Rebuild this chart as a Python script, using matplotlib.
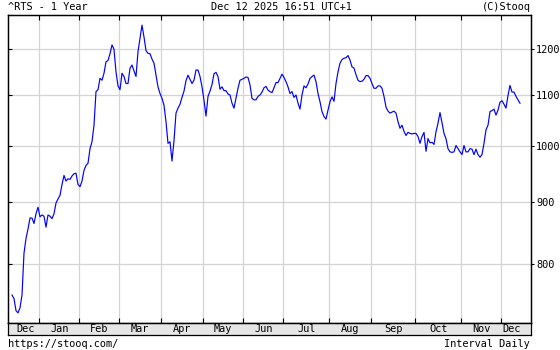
#!/usr/bin/env python3
"""Stooq style 1 year chart of the RTS index, daily close, log scale."""

import numpy as np
import matplotlib
matplotlib.use('Agg')
import matplotlib.pyplot as plt
from matplotlib.ticker import NullLocator, FixedLocator, NullFormatter

# daily closes (one value per trading day)
closes = [
	755, 750, 733, 730, 737, 755, 817, 840, 855, 873,
	873, 864, 880, 891, 875, 878, 876, 858, 878, 876,
	872, 880, 898, 905, 911, 930, 946, 936, 940, 939,
	945, 949, 950, 930, 926, 936, 955, 964, 968, 995,
	1008, 1040, 1108, 1112, 1136, 1132, 1147, 1172, 1175, 1190,
	1210, 1200, 1150, 1120, 1112, 1147, 1140, 1125, 1125, 1158,
	1165, 1152, 1140, 1195, 1225, 1256, 1228, 1197, 1191, 1190,
	1178, 1169, 1143, 1118, 1104, 1094, 1080, 1047, 1005, 1008,
	972, 1010, 1064, 1074, 1082, 1096, 1109, 1131, 1143, 1134,
	1125, 1132, 1154, 1154, 1140, 1118, 1090, 1058, 1098, 1109,
	1123, 1146, 1149, 1140, 1113, 1118, 1110, 1110, 1103, 1101,
	1084, 1074, 1094, 1115, 1132, 1134, 1136, 1139, 1138, 1122,
	1094, 1091, 1091, 1098, 1101, 1107, 1116, 1119, 1111, 1108,
	1106, 1116, 1127, 1127, 1136, 1145, 1138, 1129, 1118, 1104,
	1108, 1096, 1101, 1084, 1072, 1101, 1120, 1116, 1124, 1136,
	1140, 1143, 1129, 1104, 1087, 1067, 1057, 1052, 1070, 1087,
	1097, 1088, 1125, 1150, 1169, 1177, 1180, 1181, 1186, 1176,
	1161, 1158, 1144, 1132, 1129, 1130, 1134, 1142, 1142, 1136,
	1125, 1115, 1115, 1120, 1120, 1115, 1098, 1076, 1068, 1064,
	1066, 1068, 1064, 1047, 1034, 1040, 1028, 1020, 1026, 1024,
	1023, 1024, 1024, 1018, 1005, 1018, 1026, 990, 1014, 1006,
	1007, 1003, 1027, 1044, 1065, 1045, 1024, 1014, 995, 989,
	988, 989, 1001, 995, 989, 984, 1001, 989, 989, 995,
	994, 984, 994, 984, 979, 984, 1005, 1031, 1040, 1067,
	1069, 1072, 1060, 1070, 1086, 1089, 1082, 1074, 1100, 1121,
	1107, 1107, 1098, 1091, 1084,
]

# index of first trading day of each month (Jan .. Dec 2025)
month_starts = [14, 34, 54, 75, 96, 116, 136, 159, 180, 202, 225, 245]
month_labels = ['Dec', 'Jan', 'Feb', 'Mar', 'Apr', 'May', 'Jun',
				'Jul', 'Aug', 'Sep', 'Oct', 'Nov', 'Dec']
price_ticks = [800, 900, 1000, 1100, 1200]

title_left = '^RTS - 1 Year'
title_mid = 'Dec 12 2025 16:51 UTC+1'
title_right = '(C)Stooq'
foot_left = 'https://stooq.com/'
foot_right = 'Interval Daily'

W, H = 560, 350
FONT = dict(family='DejaVu Sans Mono', fontsize=7.4, color='black')


def box(x0, y0, x1, y1):
	# pixel box (top-left origin) -> figure fraction rect
	return [x0 / W, 1 - y1 / H, (x1 - x0) / W, (y1 - y0) / H]


def main():
	fig = plt.figure(figsize=(W / 100, H / 100), dpi=100)
	fig.patch.set_facecolor('white')

	ax = fig.add_axes(box(8, 15, 530.5, 323))
	band = fig.add_axes(box(8, 323, 530.5, 334.5), sharex=ax)

	x = np.arange(len(closes))
	ax.plot(x, closes, color='#0000ff', lw=0.85, zorder=3)

	ax.set_yscale('log')
	ax.set_ylim(716.2, 1280.2)
	ax.set_xlim(-2, 259.25)

	grid_x = [m - 0.35 for m in month_starts]
	ax.xaxis.set_major_locator(FixedLocator(grid_x))
	ax.xaxis.set_major_formatter(NullFormatter())
	ax.yaxis.set_major_locator(FixedLocator(price_ticks))
	ax.yaxis.set_minor_locator(NullLocator())
	ax.yaxis.set_major_formatter(NullFormatter())
	ax.yaxis.set_minor_formatter(NullFormatter())
	ax.grid(True, color='#d4d4d4', lw=0.9, zorder=0)
	ax.tick_params(axis='x', which='both', top=True, bottom=True,
				   direction='in', length=3.5, width=0.8, color='black')
	ax.tick_params(axis='y', which='both', left=True, right=False,
				   direction='in', length=3, width=0.8, color='black')

	# right hand price labels
	ay = ax.twinx()
	ay.set_yscale('log')
	ay.set_ylim(ax.get_ylim())
	ay.yaxis.set_major_locator(FixedLocator(price_ticks))
	ay.yaxis.set_minor_locator(NullLocator())
	ay.yaxis.set_minor_formatter(NullFormatter())
	ay.set_yticklabels([str(v) for v in price_ticks], **FONT)
	ay.tick_params(axis='y', direction='out', length=2.5, width=0.8, pad=1.5)

	for a in (ax, ay):
		for s in a.spines.values():
			s.set_color('black')
			s.set_linewidth(0.9)

	# month band
	band.set_facecolor('#e6e6e6')
	band.set_ylim(0, 1)
	band.tick_params(left=False, bottom=False, labelleft=False, labelbottom=False)
	for s in band.spines.values():
		s.set_color('black')
		s.set_linewidth(0.9)
	edges = [-0.35] + grid_x + [len(closes) - 0.35]
	for lab, a, b in zip(month_labels, edges[:-1], edges[1:]):
		band.text((a + b) / 2, 0.45, lab, ha='center', va='center', **FONT)

	fig.text(8 / W, 1 - 7.5 / H, title_left, ha='left', va='center', **FONT)
	fig.text(281 / W, 1 - 7.5 / H, title_mid, ha='center', va='center', **FONT)
	fig.text(531 / W, 1 - 7.5 / H, title_right, ha='right', va='center', **FONT)
	fig.text(8 / W, 1 - 344 / H, foot_left, ha='left', va='center', **FONT)
	fig.text(530 / W, 1 - 344 / H, foot_right, ha='right', va='center', **FONT)

	fig.savefig('out.png', dpi=100)
	plt.close(fig)


if __name__ == '__main__':
	main()
